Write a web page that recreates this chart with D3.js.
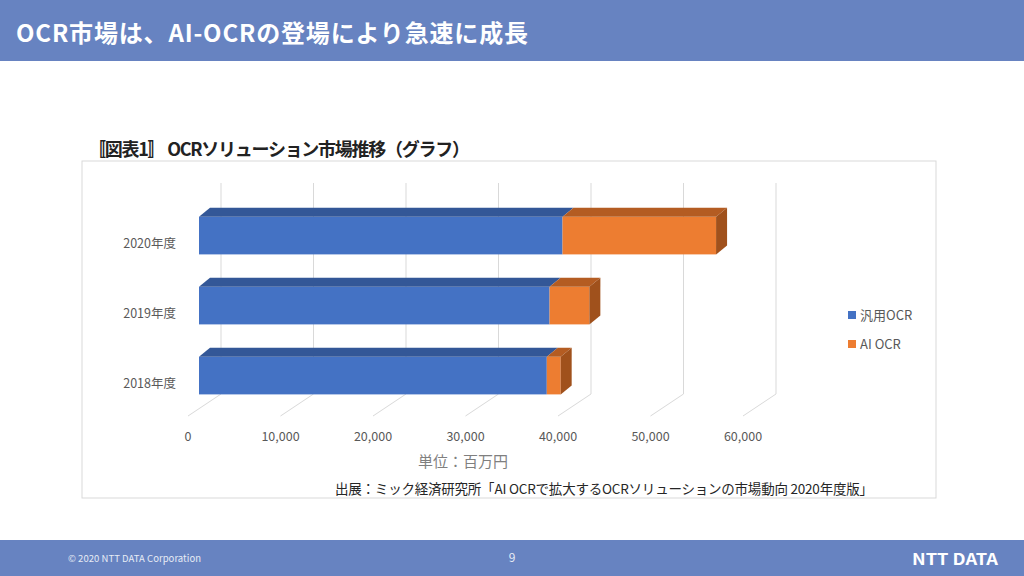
<head>
    <meta charset="utf-8" />
    <script src="https://d3js.org/d3.v7.min.js"></script>
</head>
<style>
    body { margin: 0; background: #fff; }
    text { font-family: "Noto Sans CJK JP", "Noto Sans", sans-serif; }
</style>
<body>
</body>
<script>
// data (百万円)
var years = ["2020年度", "2019年度", "2018年度"];
var seriesNames = ["汎用OCR", "AI OCR"];
var generalOCR = [39300, 37900, 37600];
var aiOCR = [16600, 4300, 1500];
var ticks = [0, 10000, 20000, 30000, 40000, 50000, 60000];

var frontColors = ["#4472C4", "#ED7D31"];
var topColors = ["#335797", "#B45C22"];
var sideColors = ["#2C4D86", "#A0511C"];

var W = 1024, H = 576;
var svg = d3.select("body").append("svg")
    .attr("width", W).attr("height", H);

// header band
svg.append("rect").attr("x", 0).attr("y", 0).attr("width", W).attr("height", 61)
    .attr("fill", "#6783C1");
svg.append("text").attr("x", 16).attr("y", 42)
    .attr("fill", "#fff").attr("font-size", 24).attr("font-weight", "bold")
    .attr("textLength", 512).attr("lengthAdjust", "spacing")
    .text("OCR市場は、AI-OCRの登場により急速に成長");

// chart title
svg.append("text").attr("x", 88).attr("y", 156)
    .attr("fill", "#222").attr("font-size", 18).attr("font-weight", "bold")
    .attr("textLength", 382).attr("lengthAdjust", "spacing")
    .text("〚図表1〛 OCRソリューション市場推移（グラフ）");

// chart frame
svg.append("rect").attr("x", 82).attr("y", 161).attr("width", 854).attr("height", 337)
    .attr("fill", "none").attr("stroke", "#d9d9d9").attr("stroke-width", 1);

// scales: x on back wall, bars/floor shifted by depth
var x = d3.scaleLinear().domain([0, 60000]).range([221, 776]);
var floorDX = -33, floorDY = 22;   // back wall -> front edge of floor
var barFront = -22, barDepthX = 11, barDepthY = -9;
var gridTop = 183, wallBottom = 394;

var y = d3.scaleBand().domain(years).range([200.6, 410.6])
    .paddingInner(0.463).paddingOuter(0.2315);

// gridlines (wall + floor)
var grid = svg.append("g");
ticks.forEach(function (t) {
    grid.append("path")
        .attr("d", "M" + x(t) + "," + gridTop + "V" + wallBottom +
            "L" + (x(t) + floorDX) + "," + (wallBottom + floorDY))
        .attr("fill", "none").attr("stroke", "#d9d9d9").attr("stroke-width", 1);
});

// tick labels
svg.append("g").selectAll("text")
    .data(ticks).enter().append("text")
    .attr("x", function (d) { return x(d) + floorDX; })
    .attr("y", 441)
    .attr("text-anchor", "middle")
    .attr("font-size", 12.5).attr("fill", "#595959")
    .text(d3.format(","));

// category labels
svg.append("g").selectAll("text")
    .data(years).enter().append("text")
    .attr("x", 176)
    .attr("y", function (d) { return y(d) + y.bandwidth() / 2 + 12; })
    .attr("text-anchor", "end")
    .attr("font-size", 12.5).attr("fill", "#595959")
    .text(function (d) { return d; });

// stacked 3d bars
var rows = years.map(function (yr, i) {
    return { year: yr, values: [generalOCR[i], aiOCR[i]] };
});
var bars = svg.append("g");
rows.forEach(function (r) {
    var top = y(r.year), bot = top + y.bandwidth();
    var start = 0;
    r.values.forEach(function (v, s) {
        var x0 = x(start) + barFront, x1 = x(start + v) + barFront;
        bars.append("rect")
            .attr("x", x0).attr("y", top)
            .attr("width", x1 - x0).attr("height", bot - top)
            .attr("fill", frontColors[s]);
        bars.append("path")
            .attr("d", "M" + x0 + "," + top +
                "L" + (x0 + barDepthX) + "," + (top + barDepthY) +
                "L" + (x1 + barDepthX) + "," + (top + barDepthY) +
                "L" + x1 + "," + top + "Z")
            .attr("fill", topColors[s]);
        if (s === r.values.length - 1) {
            bars.append("path")
                .attr("d", "M" + x1 + "," + top +
                    "L" + (x1 + barDepthX) + "," + (top + barDepthY) +
                    "L" + (x1 + barDepthX) + "," + (bot + barDepthY) +
                    "L" + x1 + "," + bot + "Z")
                .attr("fill", sideColors[s]);
        }
        start += v;
    });
});

// legend
var legend = svg.append("g").selectAll("g")
    .data(seriesNames).enter().append("g")
    .attr("transform", function (d, i) { return "translate(848," + (311 + i * 29) + ")"; });
legend.append("rect").attr("width", 8).attr("height", 8)
    .attr("fill", function (d, i) { return frontColors[i]; });
legend.append("text").attr("x", 12).attr("y", 9)
    .attr("font-size", 13).attr("fill", "#595959")
    .text(function (d) { return d; });

// unit + source
svg.append("text").attr("x", 418).attr("y", 467)
    .attr("font-size", 15).attr("fill", "#7f7f7f")
    .text("単位：百万円");
svg.append("text").attr("x", 335).attr("y", 494)
    .attr("font-size", 13.5).attr("fill", "#262626")
    .attr("textLength", 538).attr("lengthAdjust", "spacing")
    .text("出展：ミック経済研究所「AI OCRで拡大するOCRソリューションの市場動向 2020年度版」");

// footer band
svg.append("rect").attr("x", 0).attr("y", 540).attr("width", W).attr("height", 36)
    .attr("fill", "#6783C1");
svg.append("text").attr("x", 68).attr("y", 562)
    .attr("font-size", 9.5).attr("fill", "#e6ebf5")
    .attr("textLength", 133).attr("lengthAdjust", "spacing")
    .text("© 2020 NTT DATA Corporation");
svg.append("text").attr("x", 512).attr("y", 562)
    .attr("text-anchor", "middle")
    .attr("font-size", 12).attr("fill", "#e6ebf5")
    .text("9");
svg.append("text").attr("x", 912).attr("y", 565)
    .attr("font-size", 16).attr("font-weight", "bold").attr("fill", "#fff")
    .attr("font-family", "DejaVu Sans Condensed, sans-serif")
    .attr("textLength", 86).attr("lengthAdjust", "spacingAndGlyphs")
    .text("NTT DATA");
</script>
